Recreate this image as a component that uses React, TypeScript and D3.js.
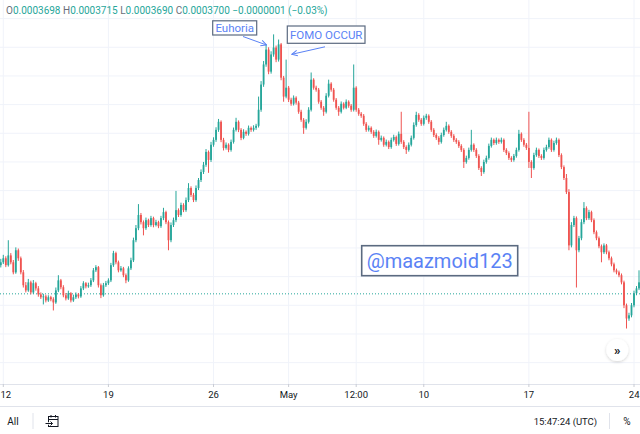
import React from 'react';
import * as d3 from 'd3';

const W = 640;
const H = 434;

// 4h candles, first one at Apr 11 20:00 UTC; prices in units of 1e-7
const firstCandle = Date.UTC(2021, 3, 11, 20);
const candleMs = 4 * 3600 * 1000;

const opens = [
  3800, 3810, 3824, 3800, 3834, 3810, 3775, 3852, 3824, 3775,
  3730, 3712, 3740, 3705, 3737, 3719, 3698, 3688, 3691, 3677,
  3688, 3681, 3670, 3712, 3747, 3723, 3695, 3684, 3702, 3677,
  3688, 3698, 3691, 3719, 3737, 3726, 3730, 3747, 3782, 3793,
  3730, 3695, 3730, 3737, 3747, 3800, 3842, 3810, 3782, 3789,
  3765, 3747, 3789, 3817, 3887, 3929, 3975, 3950, 3929, 3957,
  3940, 3964, 3940, 3950, 3936, 3964, 3985, 3950, 3887, 3940,
  3957, 3992, 3975, 4010, 3992, 4027, 4069, 4045, 4027, 4069,
  4097, 4125, 4150, 4195, 4167, 4220, 4237, 4272, 4300, 4237,
  4209, 4220, 4202, 4230, 4272, 4300, 4272, 4244, 4265, 4258,
  4279, 4272, 4279, 4286, 4342, 4430, 4500, 4552, 4475, 4535,
  4559, 4517, 4570, 4454, 4388, 4419, 4377, 4363, 4384, 4367,
  4335, 4307, 4279, 4300, 4342, 4447, 4419, 4412, 4370, 4349,
  4335, 4391, 4433, 4412, 4377, 4349, 4335, 4363, 4349, 4370,
  4356, 4342, 4419, 4342, 4328, 4321, 4293, 4272, 4279, 4265,
  4251, 4265, 4237, 4244, 4220, 4230, 4212, 4237, 4247, 4223,
  4258, 4230, 4212, 4202, 4220, 4244, 4289, 4324, 4307, 4293,
  4314, 4321, 4300, 4272, 4254, 4244, 4230, 4254, 4272, 4286,
  4265, 4251, 4237, 4230, 4216, 4202, 4160, 4174, 4202, 4220,
  4202, 4181, 4139, 4125, 4160, 4174, 4216, 4237, 4226, 4237,
  4230, 4237, 4202, 4191, 4174, 4167, 4181, 4202, 4258, 4237,
  4220, 4209, 4160, 4139, 4184, 4202, 4181, 4174, 4202, 4212,
  4237, 4202, 4226, 4237, 4184, 4142, 4104, 4055, 3869, 3940,
  3964, 3852, 3894, 3950, 3999, 3964, 3985, 3957, 3915, 3894,
  3866, 3845, 3869, 3845, 3824, 3803, 3782, 3775, 3765, 3740,
  3660, 3614, 3625, 3660, 3702, 3719,
];

const highs = [
  3822, 3836, 3831, 3887, 3842, 3818, 3862, 3858, 3830, 3783,
  3741, 3752, 3746, 3748, 3742, 3727, 3705, 3700, 3697, 3695,
  3693, 3688, 3722, 3765, 3752, 3730, 3703, 3711, 3706, 3697,
  3705, 3703, 3727, 3744, 3741, 3739, 3755, 3790, 3800, 3797,
  3736, 3738, 3745, 3754, 3808, 3850, 3847, 3816, 3797, 3794,
  3771, 3796, 3826, 3896, 3940, 4013, 3982, 3956, 3966, 3962,
  3972, 3969, 3958, 3955, 3972, 4000, 3990, 3956, 3949, 3966,
  4059, 3998, 4018, 4016, 4036, 4086, 4075, 4052, 4078, 4104,
  4134, 4160, 4205, 4200, 4230, 4246, 4281, 4310, 4305, 4244,
  4228, 4225, 4238, 4280, 4314, 4305, 4278, 4274, 4270, 4287,
  4284, 4288, 4293, 4388, 4442, 4512, 4570, 4560, 4546, 4605,
  4566, 4587, 4575, 4460, 4517, 4425, 4384, 4392, 4389, 4373,
  4342, 4313, 4309, 4351, 4472, 4452, 4426, 4418, 4376, 4355,
  4400, 4447, 4438, 4418, 4383, 4355, 4371, 4368, 4378, 4375,
  4362, 4500, 4424, 4348, 4334, 4327, 4299, 4287, 4284, 4271,
  4273, 4270, 4252, 4249, 4238, 4235, 4245, 4255, 4252, 4266,
  4335, 4236, 4218, 4228, 4252, 4298, 4335, 4330, 4313, 4322,
  4328, 4326, 4306, 4278, 4260, 4250, 4262, 4280, 4300, 4291,
  4271, 4257, 4243, 4236, 4222, 4208, 4182, 4210, 4272, 4225,
  4208, 4187, 4145, 4168, 4182, 4224, 4245, 4242, 4245, 4242,
  4245, 4242, 4208, 4197, 4180, 4188, 4210, 4272, 4263, 4243,
  4226, 4335, 4166, 4192, 4210, 4207, 4187, 4210, 4220, 4245,
  4242, 4234, 4245, 4242, 4190, 4148, 4118, 4065, 3950, 3972,
  3970, 3902, 3960, 4020, 4005, 3993, 3990, 3963, 3921, 3900,
  3872, 3876, 3874, 3851, 3830, 3809, 3788, 3781, 3771, 3746,
  3666, 3634, 3668, 3711, 3727, 3782,
];

const lows = [
  3792, 3804, 3793, 3795, 3803, 3768, 3770, 3815, 3768, 3722,
  3705, 3707, 3698, 3700, 3711, 3690, 3682, 3663, 3670, 3672,
  3674, 3642, 3665, 3706, 3716, 3688, 3677, 3679, 3670, 3672,
  3682, 3684, 3686, 3713, 3719, 3721, 3724, 3741, 3776, 3722,
  3685, 3690, 3724, 3731, 3741, 3794, 3803, 3775, 3777, 3758,
  3737, 3742, 3783, 3811, 3880, 3922, 3942, 3904, 3923, 3933,
  3934, 3932, 3935, 3929, 3930, 3957, 3943, 3852, 3880, 3933,
  3950, 3968, 3969, 3985, 3986, 4020, 4038, 4020, 4021, 4062,
  4090, 4118, 4143, 4122, 4160, 4213, 4230, 4265, 4229, 4200,
  4203, 4194, 4196, 4224, 4266, 4264, 4236, 4239, 4251, 4252,
  4265, 4266, 4272, 4280, 4335, 4422, 4492, 4466, 4468, 4527,
  4508, 4510, 4445, 4370, 4382, 4369, 4356, 4357, 4360, 4328,
  4300, 4258, 4273, 4294, 4336, 4412, 4405, 4363, 4342, 4321,
  4329, 4385, 4405, 4370, 4342, 4321, 4329, 4343, 4344, 4349,
  4335, 4336, 4335, 4321, 4314, 4286, 4265, 4266, 4258, 4244,
  4245, 4220, 4231, 4213, 4214, 4205, 4206, 4231, 4216, 4217,
  4223, 4205, 4188, 4196, 4214, 4238, 4283, 4300, 4286, 4287,
  4307, 4293, 4265, 4247, 4237, 4220, 4224, 4248, 4266, 4258,
  4244, 4230, 4223, 4209, 4195, 4139, 4154, 4168, 4196, 4195,
  4174, 4132, 4111, 4119, 4154, 4168, 4210, 4219, 4220, 4223,
  4224, 4195, 4184, 4167, 4160, 4161, 4175, 4196, 4230, 4213,
  4202, 4139, 4104, 4133, 4178, 4174, 4167, 4168, 4196, 4206,
  4195, 4196, 4220, 4177, 4135, 4097, 4048, 3852, 3862, 3933,
  3722, 3845, 3887, 3943, 3957, 3958, 3950, 3908, 3887, 3859,
  3810, 3839, 3838, 3817, 3796, 3775, 3768, 3758, 3733, 3650,
  3579, 3606, 3618, 3653, 3695, 3713,
];

const closes = [
  3810, 3824, 3800, 3834, 3810, 3775, 3852, 3824, 3775, 3730,
  3712, 3740, 3705, 3737, 3719, 3698, 3688, 3691, 3677, 3688,
  3681, 3670, 3712, 3747, 3723, 3695, 3684, 3702, 3677, 3688,
  3698, 3691, 3719, 3737, 3726, 3730, 3747, 3782, 3793, 3730,
  3695, 3730, 3737, 3747, 3800, 3842, 3810, 3782, 3789, 3765,
  3747, 3789, 3817, 3887, 3929, 3975, 3950, 3929, 3957, 3940,
  3964, 3940, 3950, 3936, 3964, 3985, 3950, 3887, 3940, 3957,
  3992, 3975, 4010, 3992, 4027, 4069, 4045, 4027, 4069, 4097,
  4125, 4150, 4195, 4167, 4220, 4237, 4272, 4300, 4237, 4209,
  4220, 4202, 4230, 4272, 4300, 4272, 4244, 4265, 4258, 4279,
  4272, 4279, 4286, 4342, 4430, 4500, 4552, 4475, 4535, 4559,
  4517, 4570, 4454, 4388, 4419, 4377, 4363, 4384, 4367, 4335,
  4307, 4279, 4300, 4342, 4447, 4419, 4412, 4370, 4349, 4335,
  4391, 4433, 4412, 4377, 4349, 4335, 4363, 4349, 4370, 4356,
  4342, 4419, 4342, 4328, 4321, 4293, 4272, 4279, 4265, 4251,
  4265, 4237, 4244, 4220, 4230, 4212, 4237, 4247, 4223, 4258,
  4230, 4212, 4202, 4220, 4244, 4289, 4324, 4307, 4293, 4314,
  4321, 4300, 4272, 4254, 4244, 4230, 4254, 4272, 4286, 4265,
  4251, 4237, 4230, 4216, 4202, 4160, 4174, 4202, 4220, 4202,
  4181, 4139, 4125, 4160, 4174, 4216, 4237, 4226, 4237, 4230,
  4237, 4202, 4191, 4174, 4167, 4181, 4202, 4258, 4237, 4220,
  4209, 4160, 4139, 4184, 4202, 4181, 4174, 4202, 4212, 4237,
  4202, 4226, 4237, 4184, 4142, 4104, 4055, 3869, 3940, 3964,
  3852, 3894, 3950, 3999, 3964, 3985, 3957, 3915, 3894, 3866,
  3845, 3869, 3845, 3824, 3803, 3782, 3775, 3765, 3740, 3660,
  3614, 3625, 3660, 3702, 3719, 3740,
];

const gridPrices = [3460, 3560, 3660, 3760, 3860, 3960, 4060, 4160, 4260, 4360, 4460, 4560, 4660];
const tickDates = [
  Date.UTC(2021, 3, 12), Date.UTC(2021, 3, 19), Date.UTC(2021, 3, 26), Date.UTC(2021, 4, 1),
  Date.UTC(2021, 4, 5, 12), Date.UTC(2021, 4, 10), Date.UTC(2021, 4, 17), Date.UTC(2021, 4, 24),
];
const tickLabels = ['12', '19', '26', 'May', '12:00', '10', '17', '24'];
const lastPrice = 3700;

const headerParts = [
  ['O', '0.0003698'], ['H', '0.0003715'], ['L', '0.0003690'], ['C', '0.0003700'],
  ['', '\u22120.0000001 (\u22120.03%)'],
];

const UP = '#26a69a';
const DOWN = '#ef5350';
const BLUE = '#5a82f5';
const BOX = '#5b6a80';
const FONT = 'Roboto, "Noto Sans", sans-serif';

export default function App() {
  const plotBottom = 384;
  const x = d3.scaleUtc()
    .domain([new Date(Date.UTC(2021, 3, 12)), new Date(Date.UTC(2021, 4, 24))])
    .range([3.3, 634]);
  const y = d3.scaleLinear().domain([3660, 4660]).range([305.3, 18.6]);

  const n = Math.min(opens.length, highs.length, lows.length, closes.length);
  const candles = d3.range(n).map((i) => ({
    t: new Date(firstCandle + i * candleMs),
    o: opens[i], h: highs[i], l: lows[i], c: closes[i],
  }));

  const bodyW = 1.8;

  return (
    <div style={{ position: 'fixed', left: 0, top: 0, width: W, height: H, background: '#fff' }}>
      <svg width={W} height={H} style={{ display: 'block', fontFamily: FONT }}>
        <defs>
          <clipPath id="plot"><rect x={0} y={0} width={W} height={plotBottom} /></clipPath>
          <filter id="sh" x="-50%" y="-50%" width="200%" height="200%">
            <feDropShadow dx="0" dy="1" stdDeviation="1.5" floodColor="#000" floodOpacity="0.18" />
          </filter>
          <marker id="ah" viewBox="0 0 10 10" refX="9" refY="5" markerWidth="7" markerHeight="7" orient="auto" markerUnits="userSpaceOnUse">
            <path d="M1,1 L9,5 L1,9" fill="none" stroke={BLUE} strokeWidth={1.4} />
          </marker>
        </defs>
        <rect x={0} y={0} width={W} height={H} fill="#fff" />
        {/* grid */}
        <g clipPath="url(#plot)">
          {gridPrices.map((p) => (
            <line key={p} x1={0} x2={W} y1={y(p)} y2={y(p)} stroke="#f0f3fa" strokeWidth={1} />
          ))}
          {tickDates.map((d) => (
            <line key={d} x1={x(new Date(d))} x2={x(new Date(d))} y1={0} y2={plotBottom} stroke="#f0f3fa" strokeWidth={1} />
          ))}
        </g>
        {/* last price line */}
        <line x1={0} x2={W} y1={y(lastPrice)} y2={y(lastPrice)} stroke={UP} strokeWidth={1} strokeDasharray="1,2" />
        {/* candles */}
        <g clipPath="url(#plot)">
          {candles.map((d, i) => {
            const cx = x(d.t);
            const col = d.c >= d.o ? UP : DOWN;
            const top = y(Math.max(d.o, d.c));
            const bot = y(Math.min(d.o, d.c));
            return (
              <g key={i}>
                <line x1={cx} x2={cx} y1={y(d.h)} y2={y(d.l)} stroke={col} strokeWidth={1} />
                <rect x={cx - bodyW / 2} y={top} width={bodyW} height={Math.max(0.8, bot - top)} fill={col} />
              </g>
            );
          })}
        </g>
        {/* header */}
        <text x={6} y={13.5} fontSize={10} style={{ whiteSpace: 'pre' }}>
          {headerParts.map(([k, v], i) => (
            <React.Fragment key={i}>
              <tspan fill="#6a6d78">{(i > 0 ? ' ' : '') + k}</tspan>
              <tspan fill={UP}>{v}</tspan>
            </React.Fragment>
          ))}
        </text>
        {/* annotations */}
        <rect x={212.7} y={20.8} width={44} height={14.2} fill="#fff" stroke={BOX} strokeWidth={1.2} />
        <text x={234.7} y={28.2} fontSize={11.5} fill={BLUE} textAnchor="middle" dominantBaseline="central">Euhoria</text>
        <line x1={243} x2={266.5} y1={36.5} y2={45} stroke={BLUE} strokeWidth={1} markerEnd="url(#ah)" />
        <rect x={287.3} y={26} width={77.7} height={17.3} fill="#fff" stroke={BOX} strokeWidth={1.2} />
        <text x={326.2} y={34.9} fontSize={11.5} fill={BLUE} textAnchor="middle" dominantBaseline="central">FOMO OCCUR</text>
        <line x1={325} x2={291.8} y1={46.8} y2={54.3} stroke={BLUE} strokeWidth={1} markerEnd="url(#ah)" />
        <rect x={361.7} y={245.7} width={156} height={30} fill="#fff" stroke={BOX} strokeWidth={1.6} />
        <text x={439.7} y={261} fontSize={20} fill={BLUE} textAnchor="middle" dominantBaseline="central">@maazmoid123</text>
        {/* scroll button */}
        <circle cx={617.3} cy={350} r={11} fill="#fff" filter="url(#sh)" />
        <text x={617.3} y={350.5} fontSize={13} fontWeight={700} fill="#131722" textAnchor="middle" dominantBaseline="central">»</text>
        {/* time axis */}
        <line x1={0} x2={W} y1={plotBottom + 0.5} y2={plotBottom + 0.5} stroke="#e0e3eb" strokeWidth={1} />
        {tickDates.map((d, i) => {
          const tx = x(new Date(d));
          const first = i === 0;
          const last = i === tickDates.length - 1;
          return (
            <g key={d}>
              <line x1={tx} x2={tx} y1={plotBottom} y2={plotBottom + 3} stroke="#c9ccd4" strokeWidth={1} />
              <text
                x={first ? 0.5 : last ? 639.5 : tx}
                y={394.5}
                fontSize={9.5}
                fill="#131722"
                textAnchor={first ? 'start' : last ? 'end' : 'middle'}
                dominantBaseline="central"
              >{tickLabels[i]}</text>
            </g>
          );
        })}
        {/* bottom toolbar */}
        <line x1={0} x2={W} y1={406.5} y2={406.5} stroke="#e0e3eb" strokeWidth={1} />
        <text x={7.3} y={421} fontSize={10} fill="#131722" dominantBaseline="central">All</text>
        <line x1={33} x2={33} y1={413} y2={429} stroke="#e0e3eb" strokeWidth={1} />
        <g stroke="#131722" strokeWidth={1} fill="none">
          <rect x={48.5} y={416.5} width={9.5} height={10} />
          <line x1={48.5} x2={58} y1={419.5} y2={419.5} />
          <line x1={51} x2={51} y1={415} y2={417.5} />
          <line x1={55.5} x2={55.5} y1={415} y2={417.5} />
          <line x1={45.5} x2={52.5} y1={423.5} y2={423.5} stroke="#fff" strokeWidth={2.5} />
          <line x1={45.5} x2={52.5} y1={423.5} y2={423.5} />
          <path d="M50.5,421.5 L52.5,423.5 L50.5,425.5" />
        </g>
        <text x={597} y={421} fontSize={9.5} fill="#131722" textAnchor="end" dominantBaseline="central">15:47:24 (UTC)</text>
        <line x1={609.5} x2={609.5} y1={413} y2={429} stroke="#e0e3eb" strokeWidth={1} />
        <text x={627} y={421} fontSize={10} fill="#131722" textAnchor="middle" dominantBaseline="central">%</text>
      </svg>
    </div>
  );
}
